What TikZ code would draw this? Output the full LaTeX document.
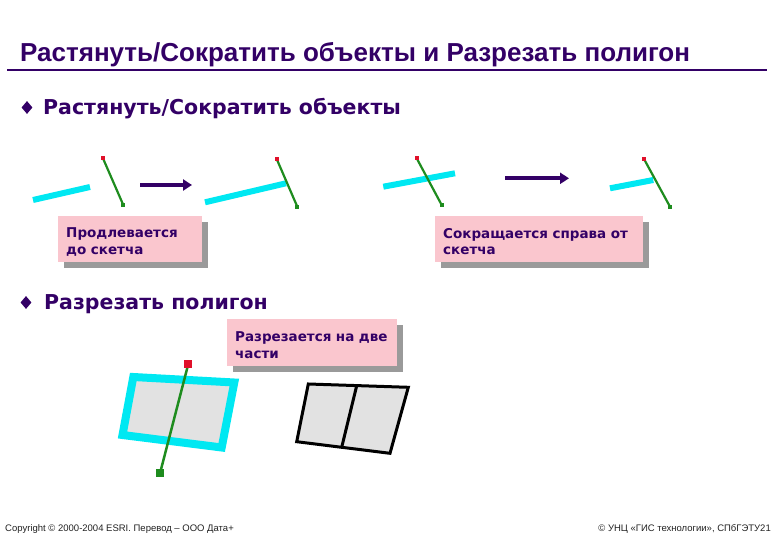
\documentclass[tikz,border=0pt]{standalone}
\usepackage{fontspec}
\setmainfont{Liberation Sans}
\newfontfamily\verdanalike{DejaVu Sans}
\usetikzlibrary{shapes.geometric,arrows.meta,shadows}
\definecolor{ink}{HTML}{330066}
\definecolor{cyanline}{HTML}{00E8F2}
\definecolor{greenline}{HTML}{1E8C1E}
\definecolor{redpt}{HTML}{E0102A}
\definecolor{pinkbox}{HTML}{FAC6CE}
\definecolor{shadowgrey}{HTML}{9A9A9A}
\definecolor{polygrey}{HTML}{E2E2E2}
\definecolor{foot}{HTML}{222222}
\tikzset{
  cyanseg/.style={draw=cyanline, line width=6pt},
  greenseg/.style={draw=greenline, line width=2.2pt},
  redsq/.style={fill=redpt, inner sep=0pt, minimum size=#1},
  greensq/.style={fill=greenline, inner sep=0pt, minimum size=#1},
  movearrow/.style={draw=ink, line width=4pt, -{Triangle[length=9pt,width=11pt]}},
  callout/.style={fill=pinkbox, anchor=north west, inner xsep=8pt, inner ysep=0pt,
    align=left, text=ink, font=\verdanalike\fontsize{13.5}{16.5}\selectfont\bfseries,
    drop shadow={shadow xshift=6pt, shadow yshift=-6pt, fill=shadowgrey, opacity=1}},
  bulletmark/.style={diamond, fill=ink, inner sep=0pt, minimum width=11pt, minimum height=13pt},
  bullettext/.style={anchor=base west, text=ink, inner sep=0pt, font=\verdanalike\fontsize{20.5}{25}\selectfont\bfseries},
  footer/.style={anchor=base, text=foot, inner sep=0pt, font=\fontsize{9.5}{11}\selectfont},
}
\newcommand{\topgap}{\rule{0pt}{15pt}}
\begin{document}
\begin{tikzpicture}[x=1pt, y=-1pt]
\useasboundingbox (0,0) rectangle (780,540);
% title
\node[anchor=base west, text=ink, inner sep=0pt, font=\fontsize{26}{30}\selectfont\bfseries] (title) at (20,61.7)
  {Растянуть/Сократить объекты и Разрезать полигон};
\coordinate (ruleL) at (7,70);
\coordinate (ruleR) at (767,70);
\draw[ink, line width=2pt] (ruleL) -- (ruleR);
% bullet 1
\node[bulletmark] (b1) at (27,107.5) {};
\node[bullettext] (b1t) at (43,115) {Растянуть/Сократить объекты};
% group 1
\coordinate (c1a) at (33,200); \coordinate (c1b) at (90,187);
\draw[cyanseg] (c1a) -- (c1b);
\coordinate (g1a) at (102.7,157.7); \coordinate (g1b) at (123.3,205);
\draw[greenseg] (g1a) -- (g1b);
\node[redsq=4pt] (r1) at (g1a) {};
\node[greensq=4pt] (q1) at (g1b) {};
% arrow 1
\coordinate (a1s) at (140,185); \coordinate (a1e) at (192,185);
\draw[movearrow] (a1s) -- (a1e);
% group 2
\coordinate (c2a) at (205,202.3); \coordinate (c2b) at (286,183.3);
\draw[cyanseg] (c2a) -- (c2b);
\coordinate (g2a) at (276.7,159); \coordinate (g2b) at (297.3,206.7);
\draw[greenseg] (g2a) -- (g2b);
\node[redsq=4pt] (r2) at (g2a) {};
\node[greensq=4pt] (q2) at (g2b) {};
% group 3
\coordinate (c3a) at (383.3,186.7); \coordinate (c3b) at (455,173.3);
\draw[cyanseg] (c3a) -- (c3b);
\coordinate (g3a) at (416.7,158.3); \coordinate (g3b) at (441.7,205);
\draw[greenseg] (g3a) -- (g3b);
\node[redsq=4pt] (r3) at (g3a) {};
\node[greensq=4pt] (q3) at (g3b) {};
% arrow 2
\coordinate (a2s) at (505,178.3); \coordinate (a2e) at (569,178.3);
\draw[movearrow] (a2s) -- (a2e);
% group 4
\coordinate (c4a) at (610,188.3); \coordinate (c4b) at (653.3,180);
\draw[cyanseg] (c4a) -- (c4b);
\coordinate (g4a) at (644,159); \coordinate (g4b) at (670,206.7);
\draw[greenseg] (g4a) -- (g4b);
\node[redsq=4pt] (r4) at (g4a) {};
\node[greensq=4pt] (q4) at (g4b) {};
% callouts
\node[callout, minimum width=144pt, minimum height=46pt, text width=128pt] (k1) at (58,216)
  {\topgap Продлевается\\до скетча};
\node[callout, minimum width=208pt, minimum height=46pt, text width=192pt] (k2) at (435,216)
  {\topgap Сокращается справа от\\скетча};
% bullet 2
\node[bulletmark] (b2) at (26,302.5) {};
\node[bullettext] (b2t) at (44,310) {Разрезать полигон};
\node[callout, minimum width=170pt, minimum height=47pt, text width=154pt] (k3) at (227,319)
  {\topgap Разрезается на две\\части};
% polygon with cut line
\coordinate (p1) at (133.3,377); \coordinate (p2) at (234.3,382.5);
\coordinate (p3) at (221.7,447.5); \coordinate (p4) at (122.5,435);
\draw[draw=cyanline, line width=8pt, fill=polygrey, line join=miter] (p1) -- (p2) -- (p3) -- (p4) -- cycle;
\coordinate (cutA) at (188.3,364); \coordinate (cutB) at (160,473.3);
\draw[greenseg, line width=2.5pt] (cutA) -- (cutB);
\node[redsq=8pt] (rc) at (cutA) {};
\node[greensq=8pt] (gc) at (cutB) {};
% result polygon
\coordinate (s1) at (308.3,384); \coordinate (s2) at (408.3,387.3);
\coordinate (s3) at (390,453.3); \coordinate (s4) at (296.7,441.7);
\coordinate (m1) at (356.7,385.7); \coordinate (m2) at (341.7,447.3);
\draw[black, line width=3pt, fill=polygrey, line join=miter] (s1) -- (s2) -- (s3) -- (s4) -- cycle;
\draw[black, line width=3pt] (m1) -- (m2);
% footer
\node[footer, anchor=base west] (f1) at (5,531) {Copyright © 2000-2004 ESRI. Перевод – ООО Дата+};
\node[footer, anchor=base east] (f2) at (771,531) {© УНЦ «ГИС технологии», СПбГЭТУ21};
\end{tikzpicture}
\end{document}
